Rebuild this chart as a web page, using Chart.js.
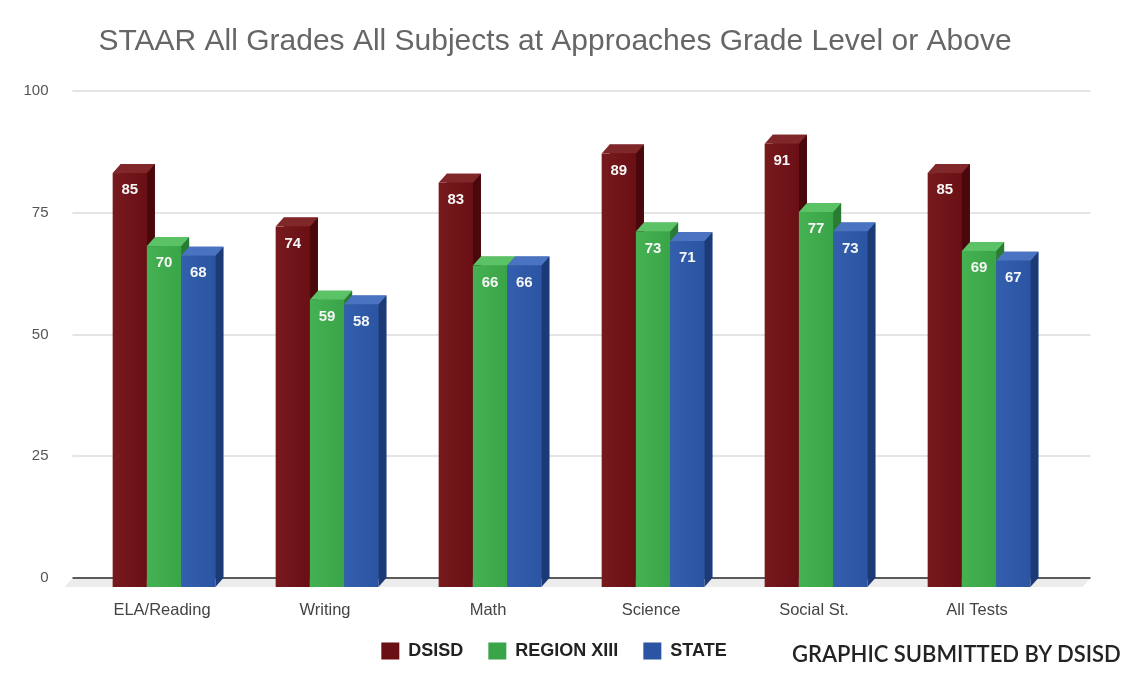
<!DOCTYPE html>
<html lang="en">
<head>
    <meta charset="UTF-8">
    <title>STAAR Approaches Grade Level</title>
    <script src="https://cdn.jsdelivr.net/npm/chart.js"></script>
    <style>
        body { margin: 0; background: #fff; }
        #wrap { position: relative; width: 1140px; height: 678px; }
        #credit {
            position: absolute; left: 792px; top: 640px;
            font-family: Lato, "Open Sans", sans-serif; font-size: 22px; font-weight: 600;
            color: #232323; white-space: nowrap;
        }
    </style>
</head>
<body>
    <div id="wrap">
        <canvas id="staarChart"></canvas>
        <div id="credit">GRAPHIC SUBMITTED BY DSISD</div>
    </div>

    <script>
        const subjects = ['ELA/Reading', 'Writing', 'Math', 'Science', 'Social St.', 'All Tests'];
        const dsisd = [85, 74, 83, 89, 91, 85];
        const region13 = [70, 59, 66, 73, 77, 69];
        const state = [68, 58, 66, 71, 73, 67];
        const yTicks = [0, 25, 50, 75, 100];

        // front / top / side colours for the fake 3D bars
        const faces = [
            { front: '#6a0f14', light: '#761a1e', top: '#80272a', side: '#4a080c' },
            { front: '#3aa548', light: '#44b152', top: '#5cc266', side: '#2a7c35' },
            { front: '#2b55a2', light: '#335fae', top: '#4a73c2', side: '#1c3a76' }
        ];
        const DX = 8, DY = 9;

        const wallGrid = {
            id: 'wallGrid',
            beforeDatasetsDraw(chart) {
                const { ctx, chartArea } = chart;
                const y = chart.scales.y;
                const left = chartArea.left - 18, right = chartArea.right + 22;
                ctx.save();
                // floor
                const y0 = y.getPixelForValue(0);
                ctx.fillStyle = '#ececec';
                ctx.beginPath();
                ctx.moveTo(left, y0);
                ctx.lineTo(right, y0);
                ctx.lineTo(right - DX, y0 + DY);
                ctx.lineTo(left - DX, y0 + DY);
                ctx.closePath();
                ctx.fill();
                yTicks.forEach(v => {
                    const py = Math.round(y.getPixelForValue(v));
                    ctx.strokeStyle = v === 0 ? '#5a5a5a' : '#dddddd';
                    ctx.lineWidth = v === 0 ? 2 : 1.5;
                    ctx.beginPath();
                    ctx.moveTo(left, py);
                    ctx.lineTo(right, py);
                    ctx.stroke();
                });
                ctx.restore();
            }
        };

        const bars3d = {
            id: 'bars3d',
            afterDatasetsDraw(chart) {
                const { ctx } = chart;
                const metas = [0, 1, 2].map(i => chart.getDatasetMeta(i));
                ctx.save();
                for (let c = 0; c < subjects.length; c++) {
                    metas.forEach((meta, d) => {
                        const bar = meta.data[c];
                        const f = faces[d];
                        const w = bar.width;
                        const x = bar.x - w / 2, top = bar.y, base = bar.base;
                        // side
                        ctx.fillStyle = f.side;
                        ctx.beginPath();
                        ctx.moveTo(x + w - DX, top + DY);
                        ctx.lineTo(x + w, top);
                        ctx.lineTo(x + w, base);
                        ctx.lineTo(x + w - DX, base + DY);
                        ctx.closePath();
                        ctx.fill();
                        // top
                        ctx.fillStyle = f.top;
                        ctx.beginPath();
                        ctx.moveTo(x - DX, top + DY);
                        ctx.lineTo(x + w - DX, top + DY);
                        ctx.lineTo(x + w, top);
                        ctx.lineTo(x, top);
                        ctx.closePath();
                        ctx.fill();
                        // front
                        const g = ctx.createLinearGradient(x - DX, 0, x + w - DX, 0);
                        g.addColorStop(0, f.light);
                        g.addColorStop(1, f.front);
                        ctx.fillStyle = g;
                        ctx.fillRect(x - DX, top + DY, w, base - top);
                    });
                }
                // value labels
                ctx.font = 'bold 15px "Liberation Sans", Arial, sans-serif';
                ctx.fillStyle = '#f6f6f6';
                ctx.textAlign = 'center';
                ctx.textBaseline = 'middle';
                metas.forEach(meta => {
                    meta.data.forEach((bar, i) => {
                        const v = chart.data.datasets[meta.index].data[i];
                        ctx.fillText(v, bar.x - DX, bar.y + DY + 17);
                    });
                });
                ctx.restore();
            }
        };

        // centre title + legend on the plot rather than the canvas, lift legend a bit
        const placeBoxes = {
            id: 'placeBoxes',
            afterLayout(chart) {
                [[chart.titleBlock, 555, 0], [chart.legend, 554, -8]].forEach(([box, cx, dy]) => {
                    if (!box) return;
                    const w = box.right - box.left;
                    box.left = cx - w / 2;
                    box.right = cx + w / 2;
                    box.top += dy;
                    box.bottom += dy;
                });
            }
        };

        const ctx = document.getElementById('staarChart').getContext('2d');
        new Chart(ctx, {
            type: 'bar',
            data: {
                labels: subjects,
                datasets: [
                    { label: 'DSISD', data: dsisd, backgroundColor: faces[0].front },
                    { label: 'REGION XIII', data: region13, backgroundColor: faces[1].front },
                    { label: 'STATE', data: state, backgroundColor: faces[2].front }
                ]
            },
            options: {
                responsive: true,
                maintainAspectRatio: false,
                animation: false,
                layout: { padding: { left: 0, right: 71.5, top: 0, bottom: 0 } },
                datasets: { bar: { categoryPercentage: 0.63, barPercentage: 1 } },
                plugins: {
                    title: {
                        display: true,
                        text: 'STAAR All Grades All Subjects at Approaches Grade Level or Above',
                        color: '#666',
                        font: { family: '"Liberation Sans", Arial, sans-serif', size: 30, weight: 'normal', lineHeight: 1.2 },
                        padding: { top: 24, bottom: 31 }
                    },
                    legend: {
                        position: 'bottom',
                        labels: {
                            boxWidth: 18,
                            boxHeight: 17,
                            padding: 25,
                            color: '#222',
                            font: { family: '"Liberation Sans", Arial, sans-serif', size: 18, weight: 'bold' }
                        }
                    },
                    tooltip: { enabled: false }
                },
                scales: {
                    x: {
                        grid: { display: false, drawTicks: false },
                        border: { display: false },
                        ticks: {
                            color: '#444',
                            padding: 23,
                            labelOffset: -10,
                            font: { family: '"Liberation Sans", Arial, sans-serif', size: 16.5 }
                        },
                        afterFit(scale) { scale.height = 47; }
                    },
                    y: {
                        min: 0,
                        max: 100,
                        grid: { display: false, drawTicks: false },
                        border: { display: false },
                        ticks: {
                            stepSize: 25,
                            color: '#555',
                            padding: 42,
                            font: { family: '"Liberation Sans", Arial, sans-serif', size: 15 }
                        },
                        afterFit(scale) { scale.width = 90.5; }
                    }
                }
            },
            plugins: [wallGrid, bars3d, placeBoxes]
        });
    </script>
</body>
</html>
